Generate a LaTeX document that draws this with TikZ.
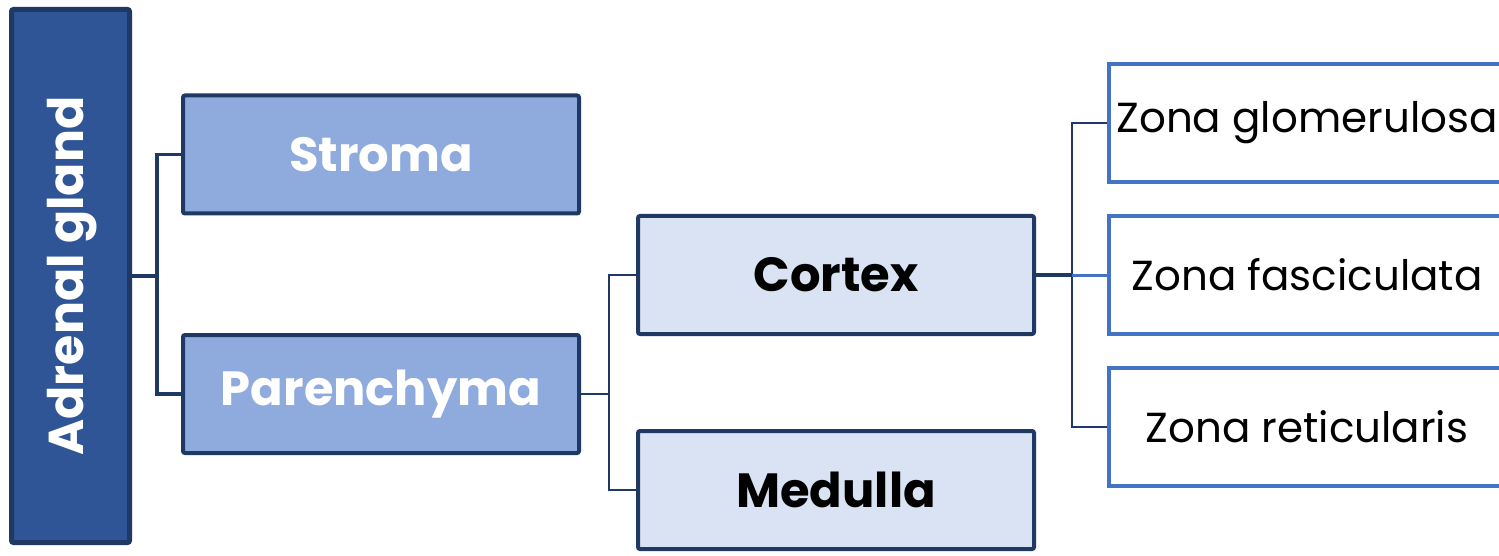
\documentclass[tikz,border=0pt]{standalone}
\usepackage{fontspec}
\setmainfont{Poppins}
\definecolor{navy}{HTML}{203864}
\definecolor{darkblue}{HTML}{2F5597}
\definecolor{midblue}{HTML}{8FAADC}
\definecolor{paleblue}{HTML}{DAE3F3}
\definecolor{zoneblue}{HTML}{4472C4}
\tikzset{
  box/.style={draw=navy, line width=4pt, rounded corners=2pt, minimum width=396pt, minimum height=118pt, inner sep=0pt},
  lvlone/.style={box, fill=midblue, text=white, font=\fontsize{48}{52}\selectfont\bfseries},
  lvltwo/.style={box, fill=paleblue, text=black, font=\fontsize{48}{52}\selectfont\bfseries},
  zone/.style={draw=zoneblue, line width=4pt, fill=white, minimum width=396pt, minimum height=118pt, inner sep=0pt, text=black, font=\fontsize{42}{46}\selectfont},
  conthick/.style={draw=navy, line width=3.5pt},
  conthin/.style={draw=navy, line width=1.5pt},
}
\begin{document}
\begin{tikzpicture}[x=1pt,y=-1pt]
\useasboundingbox (0,0) rectangle (1499,556);
\begin{scope}
\clip (0,0) rectangle (1499,556);
\node[draw=navy, line width=5pt, rounded corners=2pt, fill=darkblue, minimum width=118pt, minimum height=533pt, inner sep=0pt] (adr) at (70.5,276) {};
\node[rotate=90, text=white, font=\fontsize{49}{52}\selectfont\bfseries] (adrt) at (72,276) {Adrenal gland};
\node[lvlone] (str) at (381,154.5) {Stroma};
\node[lvlone] (par) at (381,394) {Parenchyma};
\node[lvltwo] (cor) at (836,275) {Cortex};
\node[lvltwo] (med) at (836,490) {Medulla};
\node[zone] (zg) at (1307,123) {Zona glomerulosa};
\node[zone] (zf) at (1307,275) {Zona fasciculata};
\node[zone] (zr) at (1307,427) {Zona reticularis};
\coordinate (j1) at (157,276);
\coordinate (j2) at (609,394);
\coordinate (j3) at (1072,275);
\draw[conthick] (adr.east |- j1) -- (j1);
\draw[conthick] (str.west) -| (j1) |- (par.west);
\draw[conthin] (par.east) -- (j2);
\draw[conthin] (cor.west) -| (j2) |- (med.west);
\draw[conthick] (cor.east) -- (j3);
\draw[conthin] (zg.west) -| (j3) |- (zr.west);
\draw[draw=zoneblue, line width=3pt] (j3) -- (zf.west);
\end{scope}
\end{tikzpicture}
\end{document}
